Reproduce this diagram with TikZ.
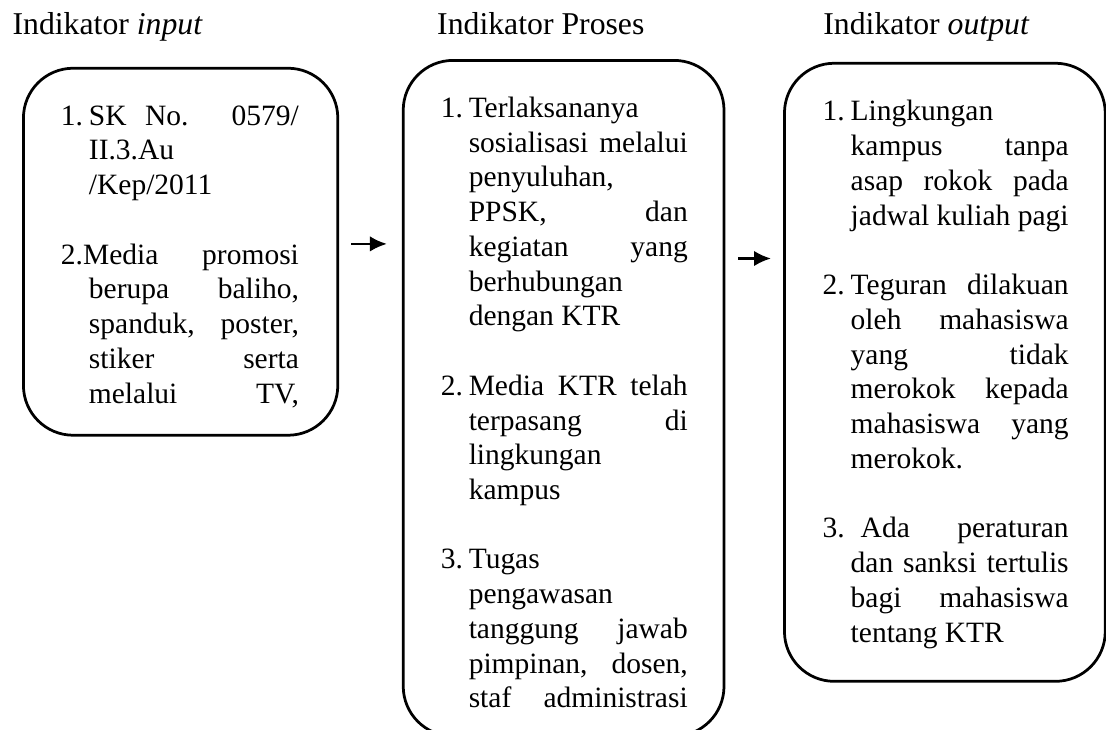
\documentclass[tikz,border=0pt]{standalone}
\usepackage{fontspec}
\setmainfont{Liberation Serif}
\usetikzlibrary{positioning,arrows.meta}

\newcommand{\nomor}[1]{\hbox to 11.2pt{#1\hfil}}
\newcommand{\butir}{\hangindent=11.2pt\hangafter=1\noindent\strut}

\tikzset{
  kotak/.style={draw, line width=1.1pt, rounded corners=0.7cm, anchor=north west, inner sep=0pt},
  isi/.style={anchor=north west, inner sep=0pt, align=justify,
    font=\fontsize{11.8pt}{13.9pt}\selectfont,
    execute at begin node={\setlength{\parskip}{13.9pt}\parindent=0pt\tolerance=10000\hbadness=10000}},
  judul/.style={anchor=base west, inner sep=0pt, font=\fontsize{12.7pt}{14pt}\selectfont},
  panah/.style={-{Latex[length=6.8pt,width=6.2pt]}, line width=1pt}
}

\begin{document}
\begin{tikzpicture}
      \useasboundingbox (0,0) rectangle (15.55,-10.25);

      \node[judul] (tinput) at (0.17,-0.49) {Indikator \textit{input}};
      \node[judul] (tproses) at (6.14,-0.49) {Indikator Proses};
      \node[judul] (toutput) at (11.57,-0.49) {Indikator \textit{output}};

      \node[kotak, minimum width=4.42cm, minimum height=5.16cm] (inbox) at (0.31,-0.94) {};
      \node[kotak, minimum width=4.51cm, minimum height=9.50cm] (procbox) at (5.65,-0.83) {};
      \node[kotak, minimum width=4.51cm, minimum height=8.69cm] (outbox) at (11.01,-0.87) {};

      \node[isi, text width=95.2pt] (intext) at ([shift={(0.54,-0.47)}]inbox.north west) {%
        \butir\nomor{1.}SK No. 0579/\linebreak II.3.Au\newline /Kep/2011\par
        \butir 2.Media promosi\linebreak berupa baliho,\linebreak spanduk, poster,\linebreak
        stiker serta\linebreak {\parfillskip=0pt melalui TV,\par}};

      \node[isi, text width=98.8pt] (proctext) at ([shift={(0.54,-0.47)}]procbox.north west) {%
        \butir\nomor{1.}Terlaksananya\newline sosialisasi melalui\linebreak penyuluhan,\newline
        PPSK, dan\linebreak kegiatan yang\linebreak berhubungan\newline dengan KTR\par
        \butir\nomor{2.}Media KTR telah\linebreak terpasang di\linebreak lingkungan\newline kampus\par
        \butir\nomor{3.}Tugas\newline pengawasan\newline tanggung jawab\linebreak
        pimpinan, dosen,\linebreak {\parfillskip=0pt staf administrasi\par}};

      \node[isi, text width=98.4pt] (outtext) at ([shift={(0.55,-0.48)}]outbox.north west) {%
        \butir\nomor{1.}Lingkungan\newline kampus tanpa\linebreak asap rokok pada\linebreak jadwal kuliah pagi\par
        \butir\nomor{2.}Teguran dilakuan\linebreak oleh mahasiswa\linebreak yang tidak\linebreak
        merokok kepada\linebreak mahasiswa yang\linebreak merokok.\par
        \butir\nomor{3.}\hspace{4pt}Ada peraturan\linebreak dan sanksi tertulis\linebreak bagi mahasiswa\linebreak tentang KTR\par};

      \draw[panah, shorten <=0.17cm, shorten >=0.21cm] ([yshift=0.11cm]inbox.east) -- ([yshift=0.11cm]inbox.east -| procbox.west);
      \draw[panah, shorten <=0.18cm, shorten >=0.17cm] ([yshift=1.6cm]outbox.west -| procbox.east) -- ([yshift=1.6cm]outbox.west);
\end{tikzpicture}
\end{document}
